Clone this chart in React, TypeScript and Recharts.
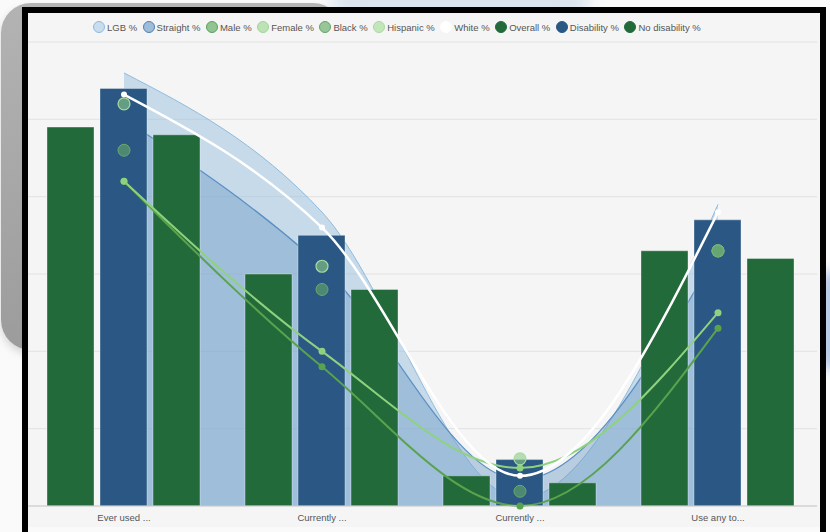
import React from "react";
import { ComposedChart, Area, Bar, Line, XAxis, YAxis, CartesianGrid } from "recharts";

// values (percent)
const categories = ["Ever used ...", "Currently ...", "Currently ...", "Use any to..."];
const lgb = [56, 38, 1, 39];
const straight = [50, 31, 3.4, 33];
const male = [52, 31, 6.1, 33];
const female = [42, 20, 4.9, 25];
const black = [46, 28, 1.9, 33];
const hispanic = [42, 18, 0, 23];
const white = [53.2, 36, 3.9, 38];
const overall = [49, 30, 3.9, 33];
const disability = [54, 35, 6, 37];
const noDisability = [48, 28, 3, 32];
const yTicks = [0, 10, 20, 30, 40, 50, 60];

const legendNames = [
  "LGB %", "Straight %", "Male %", "Female %", "Black %",
  "Hispanic %", "White %", "Overall %", "Disability %", "No disability %",
];

const swatch: Record<string, { fill: string; border: string }> = {
  "LGB %": { fill: "#c8ddee", border: "#8fbbdd" },
  "Straight %": { fill: "#9fbdd9", border: "#4f80b2" },
  "Male %": { fill: "#90c490", border: "#5f9f60" },
  "Female %": { fill: "#bde3b5", border: "#9fd49a" },
  "Black %": { fill: "#98c698", border: "#66a466" },
  "Hispanic %": { fill: "#c2e6ba", border: "#a8d9a0" },
  "White %": { fill: "#ffffff", border: "#ffffff" },
  "Overall %": { fill: "#236a3b", border: "#236a3b" },
  "Disability %": { fill: "#2a5783", border: "#2a5783" },
  "No disability %": { fill: "#236a3b", border: "#236a3b" },
};

const data = categories.map((name, i) => ({
  name,
  lgb: lgb[i],
  straight: straight[i],
  male: male[i],
  female: female[i],
  black: black[i],
  hispanic: hispanic[i],
  white: white[i],
  overall: overall[i],
  disability: disability[i],
  noDisability: noDisability[i],
}));

const font = "'Liberation Sans', Arial, sans-serif";

function ChartLegend() {
  return (
    <div
      style={{
        position: "absolute",
        left: 93,
        top: 21,
        display: "flex",
        alignItems: "center",
        gap: 5.5,
        fontFamily: font,
        fontSize: 9.5,
        color: "#555",
        zIndex: 3,
        whiteSpace: "nowrap",
      }}
    >
      {legendNames.map((n) => (
        <div key={n} style={{ display: "flex", alignItems: "center", gap: 2 }}>
          <span
            style={{
              width: 10,
              height: 10,
              borderRadius: "50%",
              background: swatch[n].fill,
              border: `1.5px solid ${swatch[n].border}`,
              display: "inline-block",
            }}
          />
          <span>{n}</span>
        </div>
      ))}
    </div>
  );
}

export default function App() {
  return (
    <div
      style={{
        position: "fixed",
        left: 0,
        top: 0,
        width: 830,
        height: 532,
        overflow: "hidden",
        background: "#fafafa",
      }}
    >
      {/* backdrop behind the framed chart */}
      <div
        style={{
          position: "absolute",
          left: 330,
          top: -20,
          width: 260,
          height: 40,
          borderRadius: 20,
          background: "#dbe4ee",
          filter: "blur(8px)",
        }}
      />
      <div
        style={{
          position: "absolute",
          left: 815,
          top: 270,
          width: 40,
          height: 100,
          borderRadius: 20,
          background: "#b9cde6",
          filter: "blur(6px)",
        }}
      />
      <div
        style={{
          position: "absolute",
          left: 1,
          top: 3,
          width: 342,
          height: 347,
          borderRadius: 30,
          background: "linear-gradient(#b3b3b3, #9c9c9c)",
          boxShadow: "0 4px 8px rgba(0,0,0,0.15)",
        }}
      />
      <div
        style={{
          position: "absolute",
          left: 28,
          top: 13,
          width: 792,
          height: 514,
          background: "#f5f5f5",
        }}
      />
      <div style={{ position: "absolute", left: 25, top: 13 }}>
        <ComposedChart
          width={800}
          height={520}
          data={data}
          margin={{ top: 29, right: 8, bottom: 0, left: 0 }}
          barCategoryGap={22}
          barGap={6}
        >
          <CartesianGrid vertical={false} stroke="#e2e2e2" />
          <XAxis
            dataKey="name"
            height={27}
            tickLine={false}
            axisLine={{ stroke: "#cccccc" }}
            tick={{ fontSize: 9.5, fill: "#555", fontFamily: font }}
            interval={0}
          />
          <YAxis hide domain={[0, 60]} ticks={yTicks} />
          <Area
            type="monotone"
            dataKey="lgb"
            stroke="#8fbbdd"
            strokeWidth={1}
            fill="#8fbbdd"
            fillOpacity={0.45}
            dot={false}
            activeDot={false}
            isAnimationActive={false}
          />
          <Area
            type="monotone"
            dataKey="straight"
            stroke="#5b8fc2"
            strokeWidth={1.2}
            fill="#6b9ac4"
            fillOpacity={0.43}
            dot={false}
            activeDot={false}
            isAnimationActive={false}
          />
          <Bar dataKey="overall" fill="#236a3b" stroke="rgba(255,255,255,0.35)" isAnimationActive={false} />
          <Bar dataKey="disability" fill="#2a5783" stroke="rgba(255,255,255,0.35)" isAnimationActive={false} />
          <Bar dataKey="noDisability" fill="#236a3b" stroke="rgba(255,255,255,0.35)" isAnimationActive={false} />
          <Line
            type="monotone"
            dataKey="hispanic"
            stroke="#5aa34e"
            strokeWidth={2}
            dot={{ r: 3.5, fill: "#5aa34e", stroke: "none" }}
            activeDot={false}
            isAnimationActive={false}
          />
          <Line
            type="monotone"
            dataKey="female"
            stroke="#8ed27f"
            strokeWidth={2}
            dot={{ r: 3.5, fill: "#8ed27f", stroke: "none" }}
            activeDot={false}
            isAnimationActive={false}
          />
          <Line
            type="monotone"
            dataKey="white"
            stroke="#ffffff"
            strokeWidth={2.5}
            dot={{ r: 3, fill: "#ffffff", stroke: "none" }}
            activeDot={false}
            isAnimationActive={false}
          />
          <Line
            type="monotone"
            dataKey="male"
            stroke="none"
            dot={{ r: 6, fill: "#8ccc85", fillOpacity: 0.6, stroke: "#a8dca0", strokeWidth: 1.2 }}
            activeDot={false}
            isAnimationActive={false}
          />
          <Line
            type="monotone"
            dataKey="black"
            stroke="none"
            dot={{ r: 6, fill: "#66a868", fillOpacity: 0.6, stroke: "#6aaa6a", strokeWidth: 1 }}
            activeDot={false}
            isAnimationActive={false}
          />
        </ComposedChart>
      </div>
      <ChartLegend />
      <div
        style={{
          position: "absolute",
          left: 22,
          top: 7,
          width: 804,
          height: 532,
          border: "6px solid #000",
          boxSizing: "border-box",
          zIndex: 5,
          pointerEvents: "none",
        }}
      />
    </div>
  );
}
